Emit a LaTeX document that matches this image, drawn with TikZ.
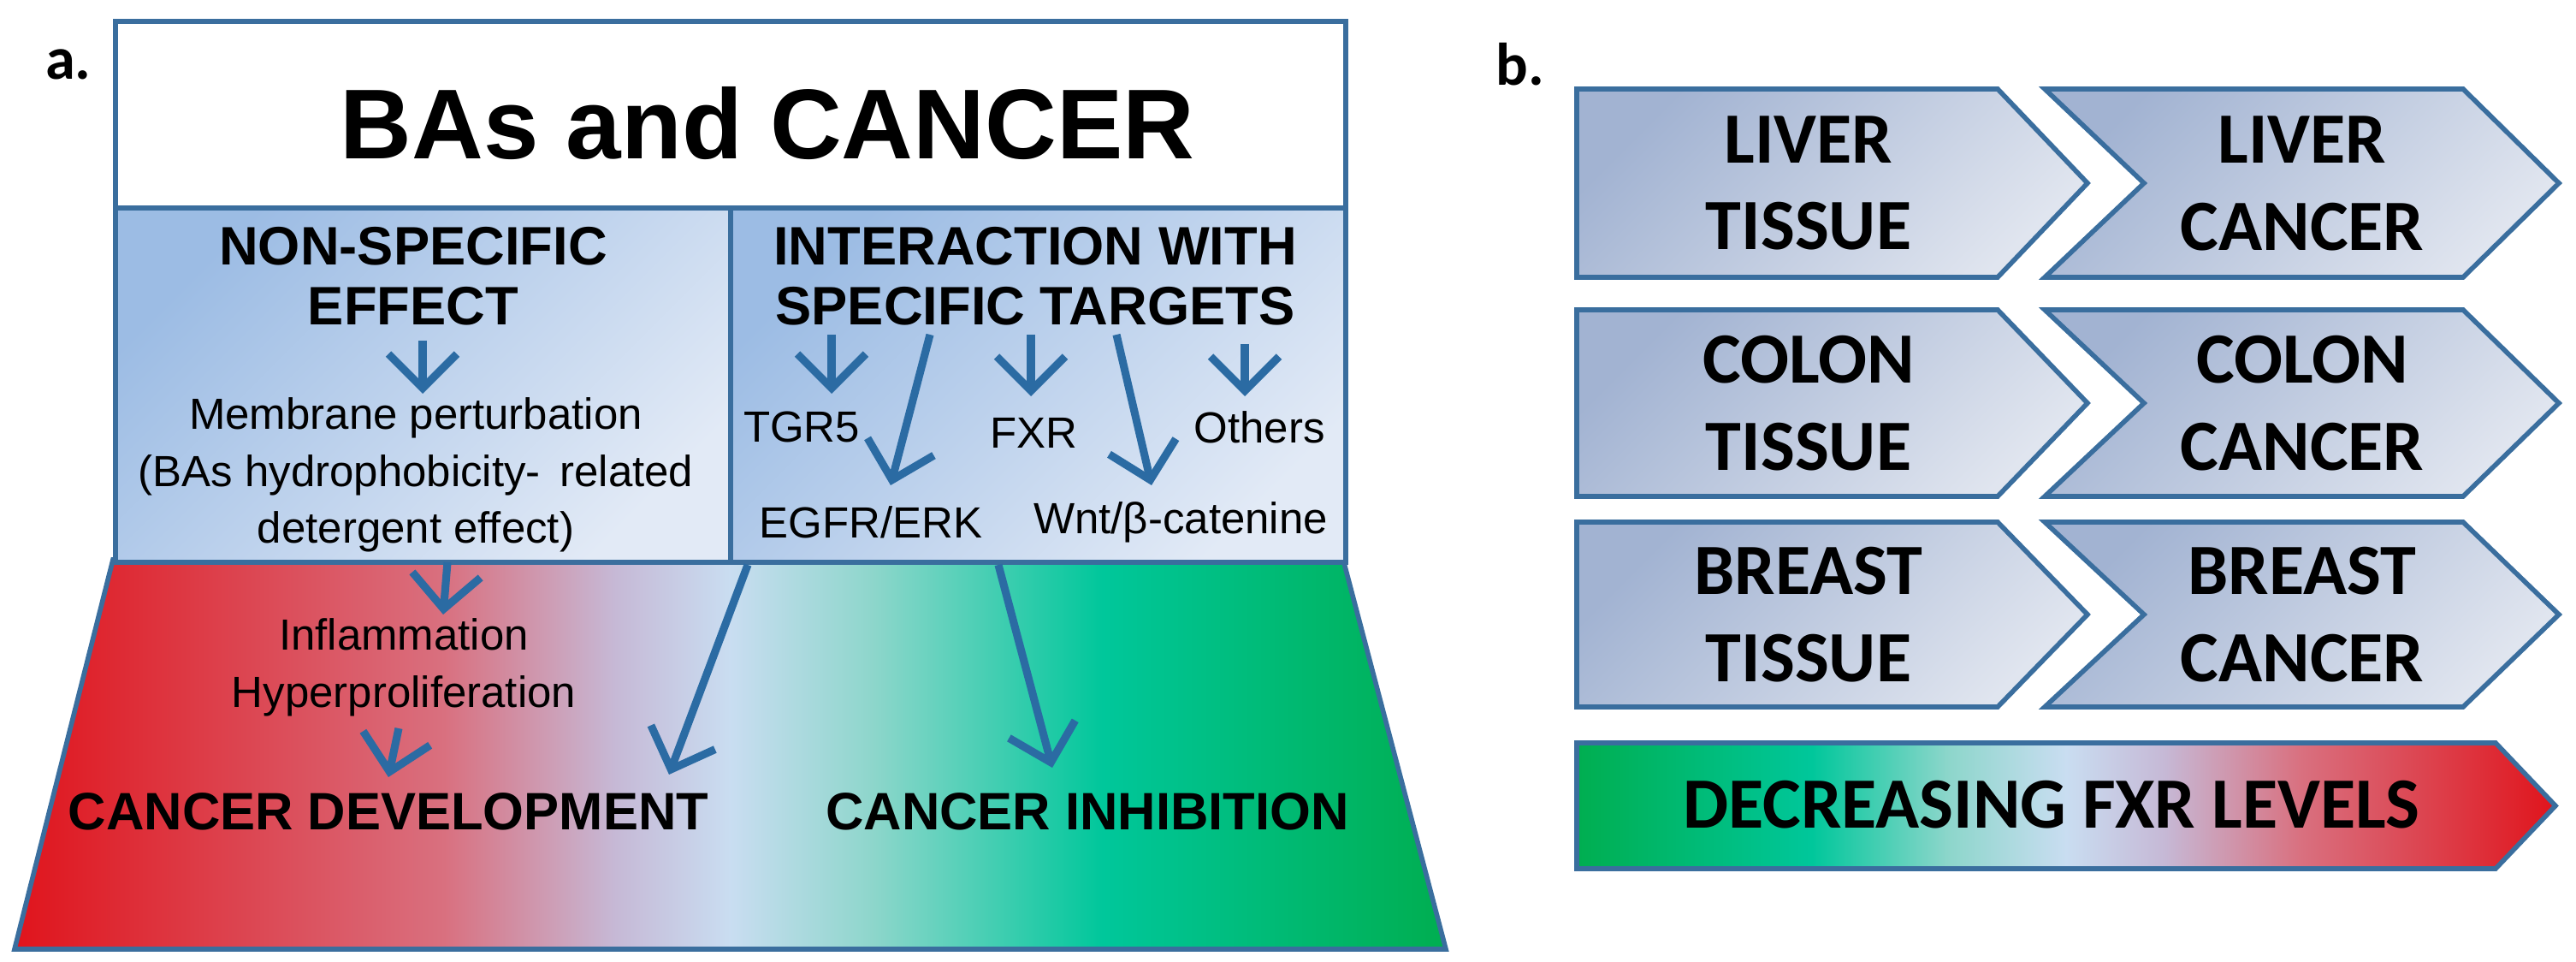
\documentclass[tikz,border=0pt]{standalone}
\usepackage{fontspec}
\setmainfont{Liberation Sans}
\newfontfamily\calib{Carlito}
\usetikzlibrary{arrows.meta}
\usetikzlibrary{positioning, shapes.geometric}

\definecolor{frameblue}{HTML}{3A6E9E}
\definecolor{arrowblue}{HTML}{2B6BA3}
\definecolor{boxdark}{HTML}{9CBCE4}
\definecolor{boxlight}{HTML}{E2EAF6}
\definecolor{chevdark}{HTML}{A2B3D2}
\definecolor{chevlight}{HTML}{E0E5EF}
\definecolor{sred}{HTML}{E0141C}
\definecolor{spink}{HTML}{D9707F}
\definecolor{slav}{HTML}{C6B9D6}
\definecolor{sblue}{HTML}{C9DDF1}
\definecolor{steal}{HTML}{8DD6CB}
\definecolor{sgreen}{HTML}{00C79B}
\definecolor{dgreen}{HTML}{00AE50}

\pgfdeclarehorizontalshading{cancershade}{100bp}{%
  color(0bp)=(sred); color(25bp)=(sred);
  color(40bp)=(spink); color(46bp)=(slav);
  color(50bp)=(sblue); color(55bp)=(steal);
  color(63bp)=(sgreen); color(75bp)=(dgreen); color(100bp)=(dgreen)}
\pgfdeclarehorizontalshading{fxrshade}{100bp}{%
  color(0bp)=(dgreen); color(25bp)=(dgreen);
  color(37bp)=(sgreen); color(44bp)=(steal); color(50bp)=(sblue);
  color(55bp)=(slav); color(62bp)=(spink); color(75bp)=(sred); color(100bp)=(sred)}

\tikzset{
  frame/.style={draw=frameblue, line width=1.6pt},
  flow/.style={draw=arrowblue, line width=2.6pt, -{Straight Barb[length=4mm, width=8mm]}},
  txt/.style={font=\fontsize{14.5}{17}\selectfont, align=center, inner sep=1pt},
  head/.style={font=\fontsize{18}{22}\selectfont\bfseries, align=center},
  chev/.style={frame, top color=chevdark, bottom color=chevlight, shading angle=45},
  chevtxt/.style={font=\calib\fontsize{24}{29}\selectfont\bfseries, align=center}
}

\begin{document}
\begin{tikzpicture}[x=1cm, y=1cm]
  \useasboundingbox (0,0) rectangle (30.11,-11.24);

  % --- Panel a ---
  \node[font=\calib\fontsize{20}{24}\selectfont\bfseries] (labela) at (0.8,-0.75) {a.};

  % Bottom trapezoid
  \shade[shading=cancershade] (1.32,-6.54) -- (15.70,-6.54) -- (16.90,-11.09) -- (0.17,-11.09) -- cycle;
  \draw[frame] (1.32,-6.54) -- (15.70,-6.54) -- (16.90,-11.09) -- (0.17,-11.09) -- cycle;

  % Boxes
  \node[frame, fill=white, minimum width=14.38cm, minimum height=2.18cm, anchor=north west] (title) at (1.32,-0.22) {};
  \node[font=\fontsize{33}{38}\selectfont\bfseries] (titletxt) at (8.97,-1.44) {BAs and CANCER};
  \node[frame, top color=boxdark, bottom color=boxlight, shading angle=45, minimum width=7.19cm, minimum height=4.14cm, anchor=north west] (nonspec) at (1.32,-2.40) {};
  \node[frame, top color=boxdark, bottom color=boxlight, shading angle=45, minimum width=7.19cm, minimum height=4.14cm, anchor=north west] (spec) at (8.51,-2.40) {};

  % Left box
  \node[head] (nshead) at (4.83,-3.23) {NON-SPECIFIC\\[-2pt]EFFECT};
  \node[txt] (membr) at (4.86,-5.55) {Membrane perturbation\\[2pt](BAs hydrophobicity-\, related\\[2pt]detergent effect)};

  % Right box
  \node[head] (sphead) at (12.10,-3.23) {INTERACTION WITH\\[-2pt]SPECIFIC TARGETS};
  \node[txt] (tgr) at (9.37,-4.99) {TGR5};
  \node[txt] (fxr) at (12.08,-5.06) {FXR};
  \node[txt] (oth) at (14.72,-4.99) {Others};
  \node[txt] (egfr) at (10.18,-6.10) {EGFR/ERK};
  \node[txt] (wnt) at (13.80,-6.10) {Wnt/β-catenine};

  % Trapezoid texts
  \node[txt] (infl) at (4.72,-7.80) {Inflammation\\[2pt]Hyperproliferation};
  \node[head, font=\fontsize{17.5}{21}\selectfont\bfseries] (dev) at (4.54,-9.48) {CANCER DEVELOPMENT};
  \node[head, font=\fontsize{17.5}{21}\selectfont\bfseries] (inh) at (12.71,-9.48) {CANCER INHIBITION};

  % --- Arrows ---
  \coordinate (a1) at (4.94,-3.98);   \coordinate (e1) at (4.94,-4.60);
  \coordinate (a2) at (9.72,-3.91);   \coordinate (e2) at (9.72,-4.60);
  \coordinate (a3) at (10.87,-3.91);  \coordinate (e3) at (10.41,-5.67);
  \coordinate (a4) at (12.05,-3.91);  \coordinate (e4) at (12.05,-4.63);
  \coordinate (a5) at (13.05,-3.91);  \coordinate (e5) at (13.46,-5.67);
  \coordinate (a6) at (14.55,-4.02);  \coordinate (e6) at (14.55,-4.63);
  \coordinate (a7) at (5.23,-6.57);   \coordinate (e7) at (5.18,-7.18);
  \coordinate (a8) at (4.66,-8.51);   \coordinate (e8) at (4.54,-9.08);
  \coordinate (a9) at (8.74,-6.60);   \coordinate (e9) at (7.82,-9.05);
  \coordinate (a10) at (11.67,-6.60); \coordinate (e10) at (12.30,-8.97);
  \draw[flow] (a1) -- (e1);
  \draw[flow] (a2) -- (e2);
  \draw[flow] (a3) -- (e3);
  \draw[flow] (a4) -- (e4);
  \draw[flow] (a5) -- (e5);
  \draw[flow] (a6) -- (e6);
  \draw[flow] (a7) -- (e7);
  \draw[flow] (a8) -- (e8);
  \draw[flow] (a9) -- (e9);
  \draw[flow] (a10) -- (e10);

  % --- Panel b ---
  \node[font=\calib\fontsize{20}{24}\selectfont\bfseries] (labelb) at (17.77,-0.75) {b.};

  \foreach \top/\bot/\org in {1.04/3.24/LIVER, 3.62/5.80/COLON, 6.10/8.26/BREAST}{
    \pgfmathsetmacro{\mid}{(\top+\bot)/2}
    % tissue chevron
    \draw[chev] (18.43,-\top) -- (23.35,-\top) -- (24.40,-\mid) -- (23.35,-\bot) -- (18.43,-\bot) -- cycle;
    % cancer chevron
    \draw[chev] (23.90,-\top) -- (28.79,-\top) -- (29.91,-\mid) -- (28.79,-\bot) -- (23.90,-\bot) -- (25.06,-\mid) -- cycle;
    \node[chevtxt] (\org tis) at (21.14,-\mid) {\org\\TISSUE};
    \node[chevtxt] (\org can) at (26.91,-\mid) {\org\\CANCER};
  }

  % FXR bar
  \shade[shading=fxrshade] (18.43,-8.68) -- (29.17,-8.68) -- (29.87,-9.415) -- (29.17,-10.15) -- (18.43,-10.15) -- cycle;
  \draw[frame] (18.43,-8.68) -- (29.17,-8.68) -- (29.87,-9.415) -- (29.17,-10.15) -- (18.43,-10.15) -- cycle;
  \node[chevtxt] (fxrbar) at (23.98,-9.40) {DECREASING FXR LEVELS};
\end{tikzpicture}
\end{document}
